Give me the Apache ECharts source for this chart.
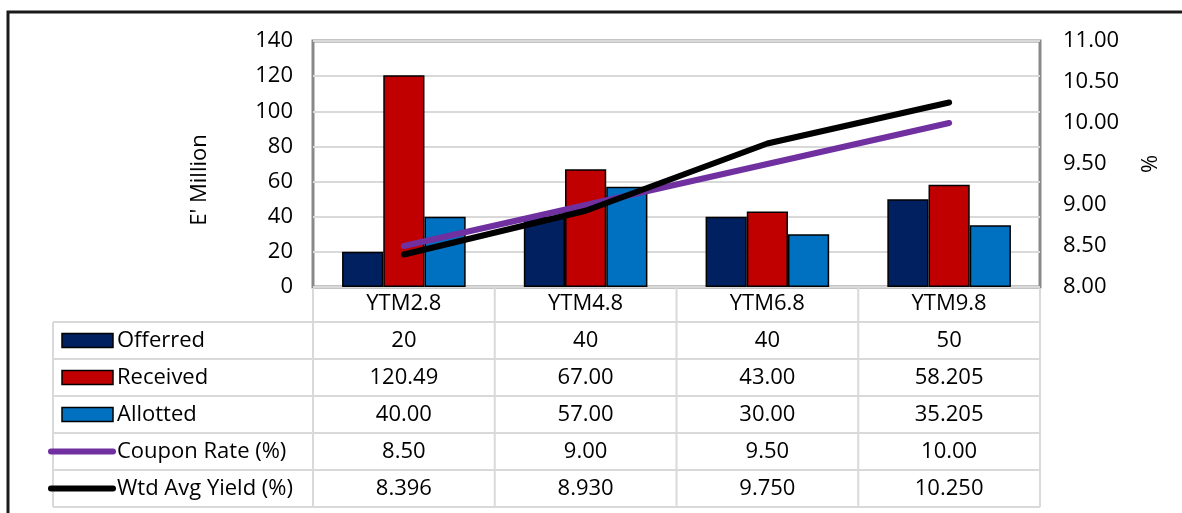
<!DOCTYPE html>
<html>
<head>
<meta charset="utf-8">
<script src="https://cdn.jsdelivr.net/npm/echarts@6/dist/echarts.min.js"></script>
<style>
html,body{margin:0;padding:0;background:#fff;}
#chart{width:1182px;height:513px;}
</style>
</head>
<body>
<div id="chart"></div>
<script>
// data
var categories = ['YTM2.8', 'YTM4.8', 'YTM6.8', 'YTM9.8'];
var offerred = [20, 40, 40, 50];
var received = [120.49, 67.00, 43.00, 58.205];
var allotted = [40.00, 57.00, 30.00, 35.205];
var couponRate = [8.50, 9.00, 9.50, 10.00];
var wtdAvgYield = [8.396, 8.930, 9.750, 10.250];

var FONT = '"Open Sans", sans-serif';
var FS = 22;

function fmtAmt(v) {
    var s = String(v);
    var d = s.indexOf('.') < 0 ? 0 : s.split('.')[1].length;
    return v.toFixed(Math.max(2, d));
}

var rows = [
    {name: 'Offerred', key: 'bar', color: '#002060', vals: offerred, fmt: function(v){ return String(v); }},
    {name: 'Received', key: 'bar', color: '#C00000', vals: received, fmt: fmtAmt},
    {name: 'Allotted', key: 'bar', color: '#0070C0', vals: allotted, fmt: fmtAmt},
    {name: 'Coupon Rate (%)', key: 'line', color: '#7030A0', vals: couponRate, fmt: function(v){ return v.toFixed(2); }},
    {name: 'Wtd Avg Yield (%)', key: 'line', color: '#000000', vals: wtdAvgYield, fmt: function(v){ return v.toFixed(3); }}
];

var myChart = echarts.init(document.getElementById('chart'));
var option = {
    animation: false,
    grid: {
        left: 313, top: 41, right: 142, bottom: 226,
        show: true, borderColor: '#898989', borderWidth: 3, backgroundColor: 'transparent'
    },
    xAxis: [{
        type: 'category',
        data: categories,
        axisLine: {show: false},
        axisTick: {show: false},
        axisLabel: {color: '#000', fontFamily: FONT, fontSize: FS, margin: 6}
    }],
    yAxis: [{
        type: 'value',
        min: 0, max: 140, interval: 20,
        axisLine: {show: false},
        axisTick: {show: false},
        axisLabel: {color: '#000', fontFamily: FONT, fontSize: FS, margin: 20},
        splitLine: {lineStyle: {color: '#d9d9d9', width: 2}}
    }, {
        type: 'value',
        min: 8, max: 11, interval: 0.5,
        name: '%',
        nameLocation: 'middle',
        nameRotate: 90,
        nameGap: 100,
        nameTextStyle: {color: '#000', fontFamily: FONT, fontSize: FS},
        axisLine: {show: false},
        axisTick: {show: false},
        axisLabel: {color: '#000', fontFamily: FONT, fontSize: FS, margin: 23,
            formatter: function(v){ return v.toFixed(2); }},
        splitLine: {show: false}
    }],
    series: [
        {name: 'Offerred', type: 'bar', data: offerred, barGap: '0%', barCategoryGap: '32%',
            itemStyle: {color: '#002060', borderColor: '#000', borderWidth: 1.5}},
        {name: 'Received', type: 'bar', data: received, barGap: '0%', barCategoryGap: '32%',
            itemStyle: {color: '#C00000', borderColor: '#000', borderWidth: 1.5}},
        {name: 'Allotted', type: 'bar', data: allotted, barGap: '0%', barCategoryGap: '32%',
            itemStyle: {color: '#0070C0', borderColor: '#000', borderWidth: 1.5}},
        {name: 'Coupon Rate (%)', type: 'line', yAxisIndex: 1, data: couponRate, symbol: 'none', z: 3,
            lineStyle: {color: '#7030A0', width: 6, cap: 'round', join: 'round'}},
        {name: 'Wtd Avg Yield (%)', type: 'line', yAxisIndex: 1, data: wtdAvgYield, symbol: 'none', z: 4,
            lineStyle: {color: '#000000', width: 6, cap: 'round', join: 'round'}}
    ]
};
myChart.setOption(option);

// data table under the plot, columns follow the category axis
var centers = [];
for (var i = 0; i < categories.length; i++) {
    centers.push(myChart.convertToPixel({xAxisIndex: 0}, i));
}
var bw = centers[1] - centers[0];
var colX = [];
for (var i = 0; i < categories.length; i++) colX.push(centers[i] - bw / 2);
colX.push(centers[categories.length - 1] + bw / 2);

var tblLeft = 53, headTop = 288, rowTop = 322, rowH = 37;
var tblBottom = rowTop + rows.length * rowH;
var gridColor = '#d9d9d9';
var g = [];

// outer frame
g.push({type: 'rect', shape: {x: 8, y: 12, width: 1200, height: 600},
    style: {fill: 'none', stroke: '#1a1a1a', lineWidth: 3}, z: 1});

// horizontal rules
for (var r = 0; r <= rows.length; r++) {
    var y = rowTop + r * rowH;
    g.push({type: 'line', shape: {x1: tblLeft, y1: y, x2: colX[colX.length - 1], y2: y},
        style: {stroke: gridColor, lineWidth: 2}});
}
// vertical rules
g.push({type: 'line', shape: {x1: tblLeft, y1: rowTop, x2: tblLeft, y2: tblBottom},
    style: {stroke: gridColor, lineWidth: 2}});
for (var c = 0; c < colX.length; c++) {
    g.push({type: 'line', shape: {x1: colX[c], y1: headTop, x2: colX[c], y2: tblBottom},
        style: {stroke: gridColor, lineWidth: 2}});
}

// rows: legend key, name, values
for (var r = 0; r < rows.length; r++) {
    var row = rows[r];
    var cy = rowTop + r * rowH + rowH / 2;
    if (row.key === 'bar') {
        g.push({type: 'rect', shape: {x: 62, y: cy - 7, width: 51, height: 14},
            style: {fill: row.color, stroke: '#000', lineWidth: 1.5}});
    } else {
        g.push({type: 'line', shape: {x1: 51, y1: cy, x2: 113, y2: cy},
            style: {stroke: row.color, lineWidth: 6, lineCap: 'round'}});
    }
    g.push({type: 'text', style: {text: row.name, x: 117, y: cy, fill: '#000',
        fontFamily: FONT, fontSize: FS, align: 'left', verticalAlign: 'middle'}});
    for (var i = 0; i < categories.length; i++) {
        g.push({type: 'text', style: {text: row.fmt(row.vals[i]), x: centers[i], y: cy, fill: '#000',
            fontFamily: FONT, fontSize: FS, align: 'center', verticalAlign: 'middle'}});
    }
}

// left axis title
g.push({type: 'text', rotation: Math.PI / 2, x: 200, y: 180,
    style: {text: "E' Million", x: 0, y: 0, fill: '#000', fontFamily: FONT, fontSize: FS,
        align: 'center', verticalAlign: 'middle'}});

myChart.setOption({graphic: g});
</script>
</body>
</html>
